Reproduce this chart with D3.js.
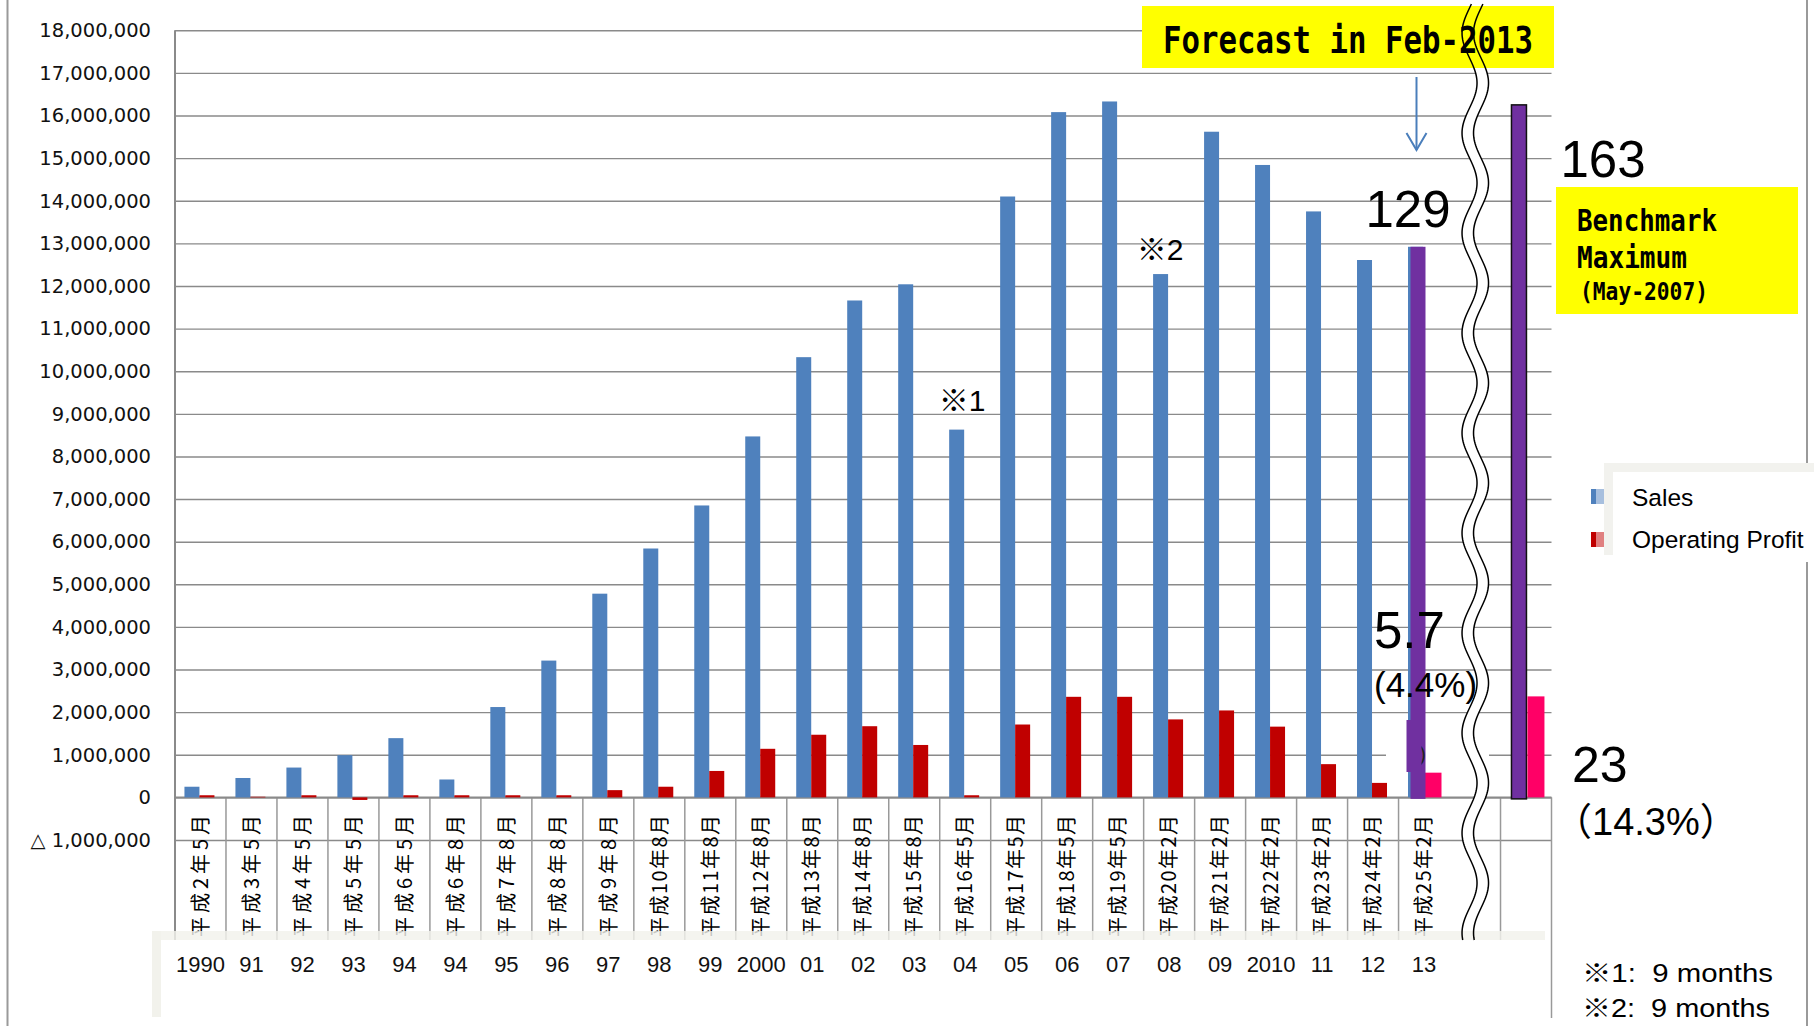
<!DOCTYPE html>
<html>
<head>
<meta charset="utf-8">
<script src="https://cdn.jsdelivr.net/npm/d3@7"></script>
<style>
body { margin: 0; background: #fff; }
svg { display: block; }
</style>
</head>
<body>
<div id="chart"></div>
<script>
// fiscal periods (Heisei) and the matching calendar year captions
var periodLabels = ["平成2年5月", "平成3年5月", "平成4年5月", "平成5年5月", "平成6年5月", "平成6年8月",
    "平成7年8月", "平成8年8月", "平成9年8月", "平成10年8月", "平成11年8月", "平成12年8月",
    "平成13年8月", "平成14年8月", "平成15年8月", "平成16年5月", "平成17年5月", "平成18年5月",
    "平成19年5月", "平成20年2月", "平成21年2月", "平成22年2月", "平成23年2月", "平成24年2月", "平成25年2月"]
var yearLabels = ["1990", "91", "92", "93", "94", "94", "95", "96", "97", "98", "99", "2000",
    "01", "02", "03", "04", "05", "06", "07", "08", "09", "2010", "11", "12", "13"]

var salesValues = [250000, 455000, 700000, 990000, 1390000, 420000, 2120000, 3210000, 4780000, 5840000,
    6850000, 8470000, 10330000, 11660000, 12040000, 8630000, 14100000, 16080000, 16330000, 12280000,
    15620000, 14840000, 13750000, 12610000, 12920000]
var profitValues = [50000, 15000, 50000, -60000, 50000, 50000, 50000, 50000, 170000, 250000,
    620000, 1140000, 1470000, 1670000, 1230000, 50000, 1710000, 2360000, 2360000, 1830000,
    2040000, 1660000, 780000, 340000, 580000]

var benchmarkSales = 16250000
var benchmarkProfit = 2370000

var yTicks = d3.range(-1000000, 18000001, 1000000)

var outerWidth = 1814,
    outerHeight = 1026
var plotLeft = 175,
    plotRight = 1551.5,
    plotTop = 30.3,
    plotBottom = 840,
    catBottom = 940

var svg = d3.select("#chart")
    .append("svg")
    .attr("width", outerWidth)
    .attr("height", outerHeight)

var yScale = d3.scaleLinear().domain([-1000000, 18000000]).range([plotBottom, plotTop])
var xScale = d3.scaleBand()
    .domain(periodLabels.concat(["gap", "benchmark"]))
    .range([plotLeft, plotRight])
    .padding(0)
var bw = xScale.bandwidth()
var seriesScale = d3.scaleBand()
    .domain(["sales", "profit"])
    .range([0, bw])
    .paddingInner(0)
    .paddingOuter(0.7)
    .align(0.45)

var gridColor = "#8a8a8a"
var blue = "#4f81bd", red = "#c00000", purple = "#7030a0", pink = "#ff0066"
var lastKey = periodLabels[periodLabels.length - 1]

// clip for the vertical category labels
svg.append("defs").append("clipPath").attr("id", "catclip")
    .append("rect").attr("x", plotLeft).attr("y", 797).attr("width", plotRight - plotLeft).attr("height", 143)

// outer frame lines
svg.append("line").attr("x1", 7.5).attr("x2", 7.5).attr("y1", 0).attr("y2", outerHeight)
    .attr("stroke", "#9a9a9a").attr("stroke-width", 2)
svg.append("line").attr("x1", 1807).attr("x2", 1807).attr("y1", 0).attr("y2", outerHeight)
    .attr("stroke", "#9a9a9a").attr("stroke-width", 2)

// gridlines
svg.append("g")
    .attr("transform", "translate(" + plotLeft + ",0)")
    .call(d3.axisLeft(yScale).tickValues(yTicks).tickSize(-(plotRight - plotLeft)).tickFormat(""))
    .call(g => g.select(".domain").remove())
    .selectAll("line")
    .attr("stroke", gridColor)
    .attr("stroke-width", 1.4)

// y tick labels
svg.append("g")
    .attr("transform", "translate(151,0)")
    .call(d3.axisLeft(yScale).tickValues(yTicks).tickSize(0).tickPadding(0)
        .tickFormat(d => d < 0 ? "△ " + d3.format(",")(-d) : d3.format(",")(d)))
    .call(g => g.select(".domain").remove())
    .selectAll("text")
    .attr("font-family", "DejaVu Sans, Verdana, sans-serif")
    .attr("font-size", "19.5px")
    .attr("fill", "#111")

// category separators (none between the last period and the break)
var sepIdx = d3.range(0, xScale.domain().length + 1).filter(i => i !== periodLabels.length)
svg.append("g").selectAll("line")
    .data(sepIdx)
    .join("line")
    .attr("x1", i => plotLeft + i * xScale.step())
    .attr("x2", i => plotLeft + i * xScale.step())
    .attr("y1", yScale(0))
    .attr("y2", i => i === sepIdx[sepIdx.length - 1] ? 1018 : catBottom)
    .attr("stroke", "#999")
    .attr("stroke-width", 1.5)

// left axis and zero line
svg.append("line").attr("x1", plotLeft).attr("x2", plotLeft).attr("y1", plotTop).attr("y2", catBottom)
    .attr("stroke", gridColor).attr("stroke-width", 2)
svg.append("line").attr("x1", plotLeft).attr("x2", plotRight).attr("y1", yScale(0)).attr("y2", yScale(0))
    .attr("stroke", gridColor).attr("stroke-width", 2)

// stray hidden label box near the forecast bar
svg.append("rect").attr("x", 1386).attr("y", yScale(1000000) - 8).attr("width", 103).attr("height", 16)
    .attr("fill", "#fff")

// wavy axis break
var waveCx = xScale("gap") + bw / 2
var waveYs = d3.range(4, catBottom + 1, 2)
function waveX(cx, y) { return cx + 7.5 * Math.sin(2 * Math.PI * (y - 258) / 100) }
var leftWave = waveYs.map(y => [waveX(waveCx - 5.5, y), y])
var rightWave = waveYs.map(y => [waveX(waveCx + 6, y), y])
var waveLine = d3.line()
svg.append("path")
    .attr("d", waveLine(leftWave.concat(rightWave.slice().reverse())) + "Z")
    .attr("fill", "#fff")

// bars
var periods = periodLabels.map((p, i) => ({ key: p, sales: salesValues[i], profit: profitValues[i] }))

function barY(v) { return yScale(Math.max(0, v)) }
function barH(v) { return Math.abs(yScale(v) - yScale(0)) }

svg.append("g").selectAll("rect")
    .data(periods)
    .join("rect")
    .attr("x", d => xScale(d.key) + seriesScale("sales"))
    .attr("y", d => barY(d.sales))
    .attr("width", seriesScale.bandwidth())
    .attr("height", d => barH(d.sales))
    .attr("fill", blue)

svg.append("g").selectAll("rect")
    .data(periods)
    .join("rect")
    .attr("x", d => xScale(d.key) + seriesScale("profit") + (d.key === lastKey ? 1.5 : 0))
    .attr("y", d => barY(d.profit))
    .attr("width", d => seriesScale.bandwidth() + (d.key === lastKey ? 2 : 0))
    .attr("height", d => barH(d.profit))
    .attr("fill", d => d.key === lastKey ? pink : red)

// forecast sales bar in purple
var lastSales = salesValues[salesValues.length - 1]
var forecastX = xScale(lastKey) + seriesScale("sales") + 2.5
svg.append("rect")
    .attr("x", forecastX)
    .attr("y", barY(lastSales))
    .attr("width", seriesScale.bandwidth())
    .attr("height", barH(lastSales) + 1.5)
    .attr("fill", purple)

// benchmark bars
svg.append("rect")
    .attr("x", xScale("benchmark") + seriesScale("sales") + 1.5)
    .attr("y", barY(benchmarkSales))
    .attr("width", seriesScale.bandwidth())
    .attr("height", barH(benchmarkSales) + 1.5)
    .attr("fill", purple)
    .attr("stroke", "#111")
    .attr("stroke-width", 1.5)
svg.append("rect")
    .attr("x", xScale("benchmark") + seriesScale("profit") + 2.5)
    .attr("y", barY(benchmarkProfit))
    .attr("width", seriesScale.bandwidth() + 2)
    .attr("height", barH(benchmarkProfit))
    .attr("fill", pink)

// garbled label fragment
svg.append("text").attr("x", 1417).attr("y", yScale(1000000) + 6)
    .attr("text-anchor", "middle").attr("font-family", "Liberation Sans, Arial, sans-serif")
    .attr("font-size", "20px").attr("fill", "#222").text("7)")
svg.append("rect").attr("x", forecastX - 4).attr("y", 720).attr("width", 15).attr("height", 52).attr("fill", purple)

// category labels (vertical)
svg.append("g")
    .attr("clip-path", "url(#catclip)")
    .selectAll("text")
    .data(periodLabels)
    .join("text")
    .attr("transform", d => "translate(" + (xScale(d) + bw / 2) + ",815) rotate(-90)")
    .attr("text-anchor", "end")
    .attr("dy", "0.36em")
    .attr("font-family", "Noto Sans CJK JP, sans-serif")
    .attr("font-size", "20px")
    .attr("textLength", 122)
    .attr("lengthAdjust", "spacing")
    .attr("fill", "#000")
    .text(d => d)

// year caption box
svg.append("rect").attr("x", 152).attr("y", 931).attr("width", 9).attr("height", 86).attr("fill", "#f2f2ec")
svg.append("rect").attr("x", 152).attr("y", 931).attr("width", 1393).attr("height", 9)
    .attr("fill", "#f2f2ec").attr("opacity", 0.82)

svg.append("g").selectAll("text")
    .data(yearLabels)
    .join("text")
    .attr("x", (d, i) => xScale(periodLabels[i]) + bw / 2)
    .attr("y", 972)
    .attr("text-anchor", "middle")
    .attr("font-family", "Liberation Sans, Arial, sans-serif")
    .attr("font-size", "22px")
    .attr("fill", "#111")
    .text(d => d)

// wave strokes
var waveG = svg.append("g")

// forecast callout
svg.append("rect").attr("x", 1142).attr("y", 6).attr("width", 412).attr("height", 62).attr("fill", "#ffff00")
svg.append("text").attr("x", 1163).attr("y", 52.7)
    .attr("font-family", "DejaVu Sans Mono, monospace").attr("font-weight", "bold")
    .attr("font-size", "38px").attr("textLength", 370).attr("lengthAdjust", "spacingAndGlyphs")
    .attr("fill", "#000")
    .text("Forecast in Feb-2013")

waveG.raise()
;[leftWave, rightWave].forEach(pts => {
    waveG.append("path").attr("d", waveLine(pts)).attr("fill", "none")
        .attr("stroke", "#000").attr("stroke-width", 1.5)
})

// arrow to forecast bar
var arrowX = xScale(lastKey) + seriesScale("sales") + seriesScale.bandwidth() / 2 + 1
svg.append("line").attr("x1", arrowX).attr("x2", arrowX).attr("y1", 77).attr("y2", 150)
    .attr("stroke", "#4a7ebb").attr("stroke-width", 2)
svg.append("path")
    .attr("d", "M" + (arrowX - 10) + ",133 L" + arrowX + ",150 L" + (arrowX + 10) + ",133")
    .attr("fill", "none").attr("stroke", "#4a7ebb").attr("stroke-width", 2)

var labelFont = "Liberation Sans, Arial, Noto Sans CJK JP, sans-serif"
function addText(x, y, size, txt, anchor) {
    return svg.append("text").attr("x", x).attr("y", y)
        .attr("text-anchor", anchor || "start")
        .attr("font-family", labelFont)
        .attr("font-size", size + "px")
        .attr("fill", "#000")
        .style("white-space", "pre")
        .text(txt)
}

// value callouts
addText(xScale(lastKey) + bw / 2 - 16, yScale(lastSales) - 20, 51, "129", "middle")
addText(plotRight + 9, 177, 51, "163")
addText(1374, 648, 51, "5.7")
addText(1374, 697, 35, "(4.4%)")
addText(1572, 782, 50, "23")
addText(1554, 835, 38, "（14.3%）")

// footnote markers
addText(xScale(periodLabels[15]) + bw / 2 - 3, yScale(salesValues[15]) - 19, 30, "※1", "middle")
addText(xScale(periodLabels[19]) + bw / 2 - 9, yScale(salesValues[19]) - 14, 30, "※2", "middle")

// benchmark callout
svg.append("rect").attr("x", 1556).attr("y", 187).attr("width", 242).attr("height", 127).attr("fill", "#ffff00")
var benchLines = [["Benchmark", 231, 31, 140], ["Maximum", 268, 31, 110], ["(May-2007)", 300, 25, 128]]
benchLines.forEach(l => {
    svg.append("text").attr("x", l[0] === "(May-2007)" ? 1580 : 1577).attr("y", l[1])
        .attr("font-family", "DejaVu Sans Mono, monospace").attr("font-weight", "bold")
        .attr("font-size", l[2] + "px").attr("textLength", l[3]).attr("lengthAdjust", "spacingAndGlyphs")
        .attr("fill", "#000")
        .text(l[0])
})

// legend
svg.append("rect").attr("x", 1604).attr("y", 463).attr("width", 210).attr("height", 99).attr("fill", "#fff")
var legendItems = [["Sales", blue, "#a7bfde", 489, 506], ["Operating Profit", red, "#e08080", 532, 548]]
legendItems.forEach(l => {
    svg.append("rect").attr("x", 1591).attr("y", l[3]).attr("width", 5).attr("height", 15).attr("fill", l[1])
    svg.append("rect").attr("x", 1596).attr("y", l[3]).attr("width", 10).attr("height", 15).attr("fill", l[2])
    addText(1632, l[4], 24.5, l[0])
})
svg.append("rect").attr("x", 1604).attr("y", 463).attr("width", 210).attr("height", 9).attr("fill", "#f2f2ee")
svg.append("rect").attr("x", 1604).attr("y", 463).attr("width", 9).attr("height", 92).attr("fill", "#f2f2ee")

// notes
addText(1582, 982, 25, "※1:  9 months").attr("textLength", 191).attr("lengthAdjust", "spacingAndGlyphs")
addText(1582, 1017, 25, "※2:  9 months").attr("textLength", 188).attr("lengthAdjust", "spacingAndGlyphs")
</script>
</body>
</html>
